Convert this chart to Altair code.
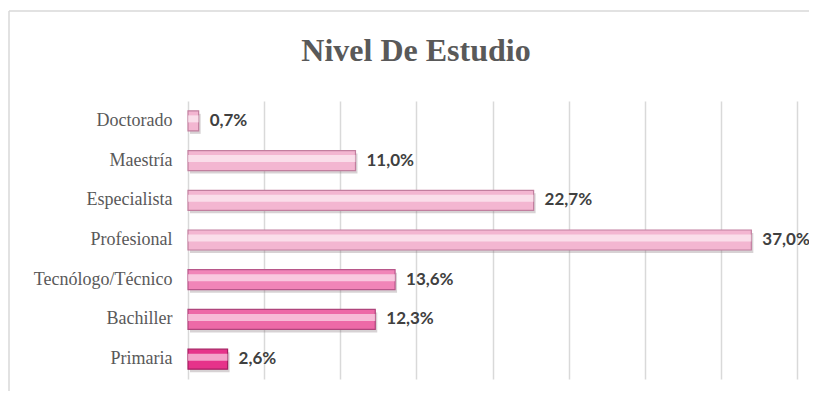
import altair as alt
import pandas as pd

categories = ["Doctorado", "Maestría", "Especialista", "Profesional",
              "Tecnólogo/Técnico", "Bachiller", "Primaria"]
values = [0.7, 11.0, 22.7, 37.0, 13.6, 12.3, 2.6]
fill_colors = ["#f3b6d1", "#f3b6d1", "#f3b6d1", "#f3b6d1", "#f185b8", "#ed69a7", "#e6338a"]
stroke_colors = ["#c27f9f", "#c27f9f", "#c27f9f", "#c27f9f", "#b8578a", "#b0457c", "#a61f62"]
grid_ticks = [0, 5, 10, 15, 20, 25, 30, 35, 40]
chart_title = "Nivel De Estudio"

df = pd.DataFrame({
    "cat": categories,
    "val": values,
    "label": [f"{v:.1f}%".replace(".", ",") for v in values],
})

y_enc = alt.Y("cat:N", sort=categories,
              scale=alt.Scale(paddingInner=0.5, paddingOuter=0.25),
              axis=alt.Axis(title=None, ticks=False, domain=False, grid=False,
                            labelFont="Liberation Serif", labelFontSize=18,
                            labelColor="#595959", labelPadding=16))
x_enc = alt.X("val:Q", scale=alt.Scale(domain=[0, 40], nice=False),
              axis=alt.Axis(title=None, labels=False, ticks=False, domain=False,
                            grid=True, gridColor="#d9d9d9", gridWidth=1.5,
                            values=grid_ticks))

base = alt.Chart(df)

shadow = base.mark_bar(size=20, color="#7a6a70", opacity=0.3, xOffset=2, yOffset=3).encode(
    x=x_enc, y=y_enc)

bars = base.mark_bar(size=20, strokeWidth=1.2).encode(
    x=x_enc, y=y_enc,
    fill=alt.Fill("cat:N", scale=alt.Scale(domain=categories, range=fill_colors), legend=None),
    stroke=alt.Stroke("cat:N", scale=alt.Scale(domain=categories, range=stroke_colors), legend=None),
)

highlight = base.mark_bar(size=7, color="white", opacity=0.55, yOffset=-2).encode(
    x=x_enc, y=y_enc)

labels = base.mark_text(align="left", baseline="middle", dx=11,
                        font="Lato", fontWeight="bold", fontSize=17,
                        color="#404040").encode(x=x_enc, y=y_enc, text="label:N")

one = alt.Data(values=[{"t": chart_title}])

title_mark = alt.Chart(one).mark_text(
    font="Liberation Serif", fontWeight="bold", fontSize=32, color="#595959",
    align="center", baseline="alphabetic").encode(
    x=alt.value(228), y=alt.value(-40), text="t:N")

border_top = alt.Chart(one).mark_rule(color="#d9d9d9", strokeWidth=1.5).encode(
    x=alt.value(-179), x2=alt.value(640), y=alt.value(-90))
border_left = alt.Chart(one).mark_rule(color="#d9d9d9", strokeWidth=1.5).encode(
    x=alt.value(-179), y=alt.value(-90), y2=alt.value(310))

chart = alt.layer(border_top, border_left, title_mark, shadow, bars, highlight, labels).properties(
    width=609, height=278,
    autosize=alt.AutoSizeParams(type="none"),
    padding={"left": 180, "top": 93, "right": 12, "bottom": 12},
).configure_view(stroke=None)

chart.save("out.html", embed_options={"renderer": "svg", "actions": False})
